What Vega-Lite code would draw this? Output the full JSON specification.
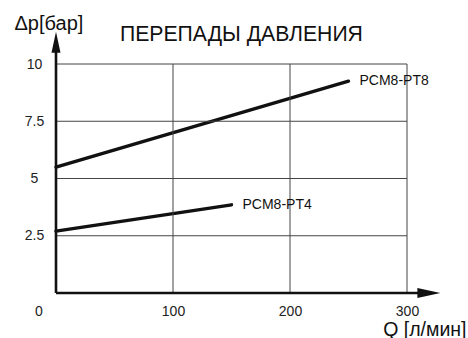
{
  "$schema": "https://vega.github.io/schema/vega-lite/v6.json",
  "autosize": "none",
  "width": 351,
  "height": 229,
  "padding": {"left": 56, "top": 64, "right": 61, "bottom": 45},
  "background": "white",
  "title": {
    "text": "ПЕРЕПАДЫ ДАВЛЕНИЯ",
    "font": "Liberation Sans",
    "fontSize": 21.2,
    "fontWeight": "normal",
    "color": "#111",
    "anchor": "start",
    "frame": "group",
    "dx": 64,
    "offset": -32
  },
  "config": {
    "view": {"stroke": null},
    "font": "Liberation Sans",
    "axis": {"domain": false, "ticks": false, "grid": false}
  },
  "datasets": {
    "curves": [
      {"series": "PCM8-PT8", "q": 0, "dp": 5.5},
      {"series": "PCM8-PT8", "q": 250, "dp": 9.25},
      {"series": "PCM8-PT4", "q": 0, "dp": 2.7},
      {"series": "PCM8-PT4", "q": 150, "dp": 3.85}
    ],
    "hgrid": [{"dp": 2.5}, {"dp": 5}, {"dp": 7.5}, {"dp": 10}],
    "vgrid": [{"q": 100}, {"q": 200}, {"q": 300}]
  },
  "layer": [
    {
      "data": {"name": "curves"},
      "mark": {"type": "line", "color": "#111", "strokeWidth": 3.4, "strokeCap": "round"},
      "encoding": {
        "x": {
          "field": "q",
          "type": "quantitative",
          "scale": {"domain": [0, 300], "nice": false},
          "axis": {
            "values": [100, 200, 300],
            "labelFlush": false,
            "labelPadding": 11,
            "labelFontSize": 14,
            "labelColor": "#222",
            "labelFont": "Liberation Sans",
            "title": "Q [л/мин]",
            "titleFont": "Liberation Sans",
            "titleFontSize": 19.5,
            "titleFontWeight": "normal",
            "titleColor": "#111",
            "titleAlign": "right",
            "titleBaseline": "alphabetic",
            "titleX": 410,
            "titleY": 42
          }
        },
        "y": {
          "field": "dp",
          "type": "quantitative",
          "scale": {"domain": [0, 10], "nice": false},
          "axis": {
            "values": [2.5, 5, 7.5, 10],
            "format": ".1~f",
            "labelFlush": false,
            "labelAlign": "center",
            "labelPadding": 22,
            "labelFontSize": 14,
            "labelColor": "#222",
            "labelFont": "Liberation Sans",
            "title": "Δp[бар]",
            "titleFont": "Liberation Sans",
            "titleFontSize": 20,
            "titleFontWeight": "normal",
            "titleColor": "#111",
            "titleAngle": 0,
            "titleAlign": "left",
            "titleBaseline": "alphabetic",
            "titleX": -42,
            "titleY": -35
          }
        },
        "detail": {"field": "series"}
      }
    },
    {
      "data": {"name": "hgrid"},
      "mark": {"type": "rule", "color": "#444", "strokeWidth": 1},
      "encoding": {
        "x": {"datum": 0, "type": "quantitative"},
        "x2": {"datum": 300},
        "y": {"field": "dp", "type": "quantitative"}
      }
    },
    {
      "data": {"name": "vgrid"},
      "mark": {"type": "rule", "color": "#444", "strokeWidth": 1},
      "encoding": {
        "x": {"field": "q", "type": "quantitative"},
        "y": {"datum": 0, "type": "quantitative"},
        "y2": {"datum": 10}
      }
    },
    {
      "data": {"values": [{"q": 0, "q2": 312, "dp": 0, "dp2": 0}, {"q": 0, "q2": 0, "dp": 0, "dp2": 10.7}]},
      "mark": {"type": "rule", "color": "#111", "strokeWidth": 2.6},
      "encoding": {
        "x": {"field": "q", "type": "quantitative"},
        "x2": {"field": "q2"},
        "y": {"field": "dp", "type": "quantitative"},
        "y2": {"field": "dp2"}
      }
    },
    {
      "data": {"values": [{"q": 318.7, "dp": 0}]},
      "mark": {"type": "point", "shape": "M-1,-0.43L1,0L-1,0.43Z", "size": 529, "filled": true, "color": "#111", "opacity": 1},
      "encoding": {
        "x": {"field": "q", "type": "quantitative"},
        "y": {"field": "dp", "type": "quantitative"}
      }
    },
    {
      "data": {"values": [{"q": 0, "dp": 10.95}]},
      "mark": {"type": "point", "shape": "M-0.43,1L0,-1L0.43,1Z", "size": 441, "filled": true, "color": "#111", "opacity": 1},
      "encoding": {
        "x": {"field": "q", "type": "quantitative"},
        "y": {"field": "dp", "type": "quantitative"}
      }
    },
    {
      "data": {"name": "curves"},
      "transform": [{"filter": "datum.q > 0"}],
      "mark": {"type": "text", "align": "left", "baseline": "middle", "dx": 11, "fontSize": 14, "color": "#111", "font": "Liberation Sans"},
      "encoding": {
        "x": {"field": "q", "type": "quantitative"},
        "y": {"field": "dp", "type": "quantitative"},
        "text": {"field": "series"}
      }
    },
    {
      "data": {"values": [{"q": 0, "dp": 0, "label": "0"}]},
      "mark": {"type": "text", "align": "center", "baseline": "middle", "dx": -17, "dy": 19, "fontSize": 14, "color": "#222", "font": "Liberation Sans"},
      "encoding": {
        "x": {"field": "q", "type": "quantitative"},
        "y": {"field": "dp", "type": "quantitative"},
        "text": {"field": "label"}
      }
    }
  ]
}
